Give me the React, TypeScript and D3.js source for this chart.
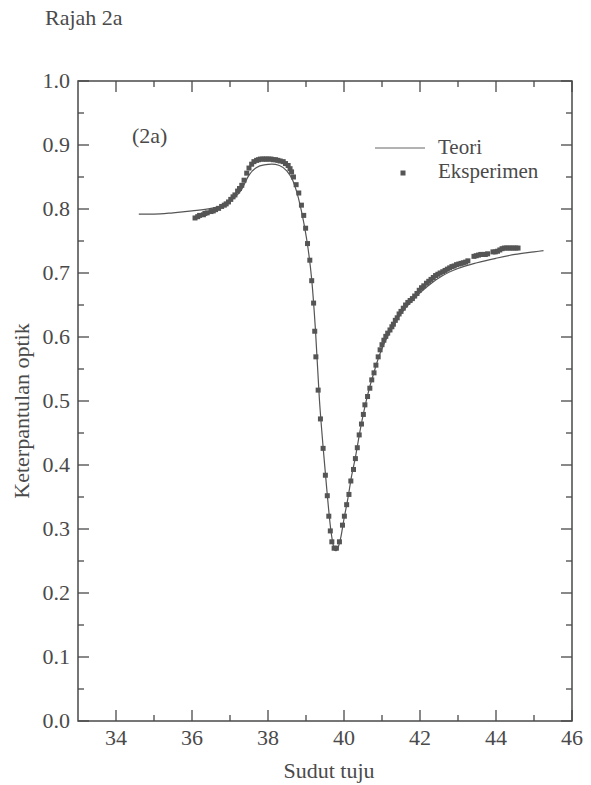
import React from "react";
import * as d3 from "d3";

const title = "Rajah 2a";
const panelLabel = "(2a)";
const xLabel = "Sudut tuju";
const yLabel = "Keterpantulan optik";
const legendLabels = ["Teori", "Eksperimen"];

const xMajorTicks = [34, 36, 38, 40, 42, 44, 46];
const xMinorTicks = [35, 37, 39, 41, 43, 45];
const yMajorTicks = [0, 0.1, 0.2, 0.3, 0.4, 0.5, 0.6, 0.7, 0.8, 0.9, 1.0];
const yMinorTicks = [0.05, 0.15, 0.25, 0.35, 0.45, 0.55, 0.65, 0.75, 0.85, 0.95];

// Theory curve (angle, reflectance)
const theoryX = [34.6, 35.0, 35.5, 36.0, 36.5, 36.9, 37.1, 37.3, 37.5, 37.7, 37.9, 38.1, 38.3, 38.5, 38.65, 38.75, 38.85, 38.95, 39.05, 39.15, 39.25, 39.35, 39.45, 39.55, 39.65, 39.72, 39.78, 39.85, 39.92, 40.0, 40.1, 40.2, 40.3, 40.4, 40.5, 40.6, 40.7, 40.8, 40.9, 41.0, 41.2, 41.4, 41.6, 41.8, 42.0, 42.3, 42.6, 43.0, 43.5, 44.0, 44.5, 45.0, 45.25];
const theoryY = [0.792, 0.792, 0.794, 0.797, 0.801, 0.808, 0.817, 0.830, 0.853, 0.865, 0.869, 0.870, 0.868, 0.859, 0.845, 0.828, 0.805, 0.776, 0.740, 0.690, 0.610, 0.505, 0.428, 0.360, 0.300, 0.274, 0.266, 0.272, 0.288, 0.316, 0.347, 0.383, 0.412, 0.446, 0.477, 0.504, 0.527, 0.547, 0.566, 0.582, 0.607, 0.628, 0.644, 0.657, 0.669, 0.684, 0.696, 0.707, 0.716, 0.723, 0.729, 0.733, 0.735];

// Experimental points (angle, reflectance)
const expX = [
  36.08, 36.15, 36.2, 36.3, 36.34, 36.4, 36.5, 36.56, 36.62, 36.7, 36.78, 36.85, 36.9, 36.96, 37.02, 37.08, 37.13, 37.2, 37.25, 37.31, 37.37, 37.44, 37.5, 37.57, 37.63, 37.7, 37.75, 37.8, 37.86, 37.92, 37.96, 38.02, 38.08, 38.14, 38.2, 38.26, 38.32, 38.4, 38.46, 38.53, 38.58, 38.62, 38.67, 38.74, 38.81,
  38.88, 38.94, 38.99, 39.04, 39.1, 39.15, 39.2, 39.23, 39.26, 39.32, 39.38, 39.45, 39.51, 39.56, 39.6, 39.64, 39.68, 39.74, 39.8, 39.88, 39.96, 40.01, 40.07, 40.13, 40.18, 40.25, 40.3, 40.35, 40.4, 40.46, 40.51, 40.55, 40.62, 40.68, 40.73, 40.79, 40.84, 40.9, 40.95, 41.0, 41.05, 41.1, 41.15, 41.21, 41.26, 41.3, 41.35, 41.4, 41.45, 41.5, 41.56,
  41.62, 41.68, 41.74, 41.8, 41.86, 41.92, 41.98, 42.04, 42.1, 42.17, 42.23, 42.29, 42.35, 42.41, 42.47, 42.53, 42.6, 42.66, 42.72, 42.78, 42.84, 42.9, 42.96, 43.02, 43.08, 43.14, 43.2, 43.26, 43.42, 43.48, 43.54, 43.6, 43.66, 43.72, 43.78, 43.92, 43.98, 44.04, 44.1, 44.16, 44.22, 44.28, 44.34, 44.4, 44.46, 44.52, 44.58,
];
const expY = [
  0.786, 0.788, 0.790, 0.791, 0.793, 0.794, 0.796, 0.797, 0.799, 0.801, 0.804, 0.806, 0.808, 0.811, 0.815, 0.819, 0.822, 0.828, 0.832, 0.837, 0.845, 0.856, 0.864, 0.870, 0.874, 0.876, 0.877, 0.878, 0.878, 0.878, 0.878, 0.878, 0.878, 0.877, 0.877, 0.876, 0.875, 0.874, 0.871, 0.868, 0.863, 0.858, 0.850, 0.838, 0.825,
  0.806, 0.790, 0.770, 0.746, 0.720, 0.688, 0.653, 0.609, 0.569, 0.517, 0.472, 0.426, 0.384, 0.352, 0.320, 0.297, 0.280, 0.270, 0.270, 0.280, 0.306, 0.320, 0.338, 0.354, 0.375, 0.393, 0.410, 0.427, 0.447, 0.464, 0.479, 0.494, 0.507, 0.520, 0.533, 0.544, 0.556, 0.569, 0.580, 0.588, 0.595, 0.601, 0.606, 0.611, 0.616, 0.620, 0.626, 0.630, 0.636, 0.640, 0.645,
  0.650, 0.654, 0.657, 0.660, 0.664, 0.668, 0.673, 0.677, 0.680, 0.684, 0.687, 0.690, 0.693, 0.696, 0.698, 0.700, 0.702, 0.704, 0.706, 0.708, 0.710, 0.711, 0.713, 0.714, 0.715, 0.716, 0.717, 0.719, 0.726, 0.727, 0.728, 0.729, 0.729, 0.729, 0.730, 0.733, 0.733, 0.734, 0.736, 0.738, 0.739, 0.739, 0.739, 0.739, 0.739, 0.739, 0.739,
];

const W = 591;
const H = 785;
const M = { left: 78, right: 572, top: 81, bottom: 721 };
const INK = "#4a4a4a";
const FONT = "Liberation Serif, DejaVu Serif, serif";
const FS = 22;

export default function App() {
  const x = d3.scaleLinear().domain([33, 46]).range([M.left, M.right]);
  const y = d3.scaleLinear().domain([0, 1]).range([M.bottom, M.top]);

  const theory = theoryX.map((v, i) => [v, theoryY[i]] as [number, number]);
  const exp = expX.map((v, i) => [v, expY[i]] as [number, number]);
  const line = d3
    .line<[number, number]>()
    .x((d) => x(d[0]))
    .y((d) => y(d[1]))
    .curve(d3.curveMonotoneX);

  const majorLen = 11;
  const minorLen = 6;
  const sq = 5;
  const txt = { fontFamily: FONT, fontSize: FS, fill: INK } as React.CSSProperties;
  const legTxt = { fontFamily: FONT, fontSize: 21, fill: INK } as React.CSSProperties;

  return (
    <svg width={W} height={H} style={{ position: "absolute", left: 0, top: 0, background: "#fff" }}>
      <rect x={0} y={0} width={W} height={H} fill="#fff" />
      <text x={45} y={25} style={txt}>
        {title}
      </text>

      {/* frame */}
      <rect
        x={M.left}
        y={M.top}
        width={M.right - M.left}
        height={M.bottom - M.top}
        fill="none"
        stroke={INK}
        strokeWidth={1.5}
      />

      {/* x ticks */}
      {xMajorTicks.map((t) => (
        <g key={"xm" + t}>
          <line x1={x(t)} x2={x(t)} y1={M.bottom} y2={M.bottom - majorLen} stroke={INK} strokeWidth={1.3} />
          <line x1={x(t)} x2={x(t)} y1={M.top} y2={M.top + majorLen} stroke={INK} strokeWidth={1.3} />
          <text x={x(t)} y={745} textAnchor="middle" style={txt}>
            {t}
          </text>
        </g>
      ))}
      {xMinorTicks.map((t) => (
        <g key={"xn" + t}>
          <line x1={x(t)} x2={x(t)} y1={M.bottom} y2={M.bottom - minorLen} stroke={INK} strokeWidth={1.3} />
          <line x1={x(t)} x2={x(t)} y1={M.top} y2={M.top + minorLen} stroke={INK} strokeWidth={1.3} />
        </g>
      ))}

      {/* y ticks */}
      {yMajorTicks.map((t) => (
        <g key={"ym" + t}>
          <line x1={M.left} x2={M.left + majorLen} y1={y(t)} y2={y(t)} stroke={INK} strokeWidth={1.3} />
          <line x1={M.right} x2={M.right - majorLen} y1={y(t)} y2={y(t)} stroke={INK} strokeWidth={1.3} />
          <text x={70} y={y(t) + 7} textAnchor="end" style={txt}>
            {t.toFixed(1)}
          </text>
        </g>
      ))}
      {yMinorTicks.map((t) => (
        <g key={"yn" + t}>
          <line x1={M.left} x2={M.left + minorLen} y1={y(t)} y2={y(t)} stroke={INK} strokeWidth={1.3} />
          <line x1={M.right} x2={M.right - minorLen} y1={y(t)} y2={y(t)} stroke={INK} strokeWidth={1.3} />
        </g>
      ))}

      {/* axis labels */}
      <text x={(M.left + M.right) / 2 + 4} y={778} textAnchor="middle" style={txt}>
        {xLabel}
      </text>
      <text
        transform={`translate(29, ${(M.top + M.bottom) / 2 + 10}) rotate(-90)`}
        textAnchor="middle"
        style={txt}
      >
        {yLabel}
      </text>

      {/* panel label */}
      <text x={132} y={143} style={txt}>
        {panelLabel}
      </text>

      {/* legend */}
      <line x1={375} x2={425} y1={148} y2={148} stroke="#666" strokeWidth={1} />
      <text x={438} y={154} style={legTxt}>
        {legendLabels[0]}
      </text>
      <rect x={403 - sq / 2} y={173 - sq / 2} width={sq} height={sq} fill="#555" />
      <text x={438} y={178} style={legTxt}>
        {legendLabels[1]}
      </text>

      {/* theory */}
      <path d={line(theory) || ""} fill="none" stroke="#555" strokeWidth={1.2} />

      {/* experiment */}
      {exp.map((d, i) => (
        <rect key={i} x={x(d[0]) - sq / 2} y={y(d[1]) - sq / 2} width={sq} height={sq} fill="#555" />
      ))}
    </svg>
  );
}
